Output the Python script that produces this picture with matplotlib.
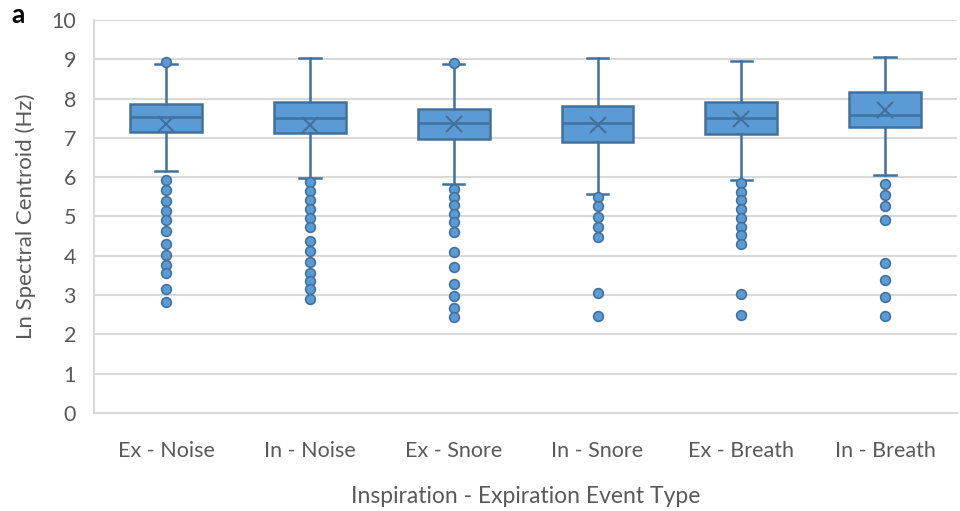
import matplotlib.pyplot as plt

categories = ['Ex - Noise', 'In - Noise', 'Ex - Snore', 'In - Snore', 'Ex - Breath', 'In - Breath']

q1 = [7.15, 7.11, 6.96, 6.89, 7.09, 7.28]
medians = [7.53, 7.51, 7.38, 7.38, 7.50, 7.58]
q3 = [7.86, 7.90, 7.73, 7.81, 7.90, 8.16]
means = [7.34, 7.33, 7.34, 7.33, 7.48, 7.71]
whisker_low = [6.15, 5.97, 5.82, 5.56, 5.92, 6.06]
whisker_high = [8.88, 9.02, 8.88, 9.03, 8.95, 9.06]

outliers = [
    [8.92, 5.93, 5.66, 5.39, 5.13, 4.90, 4.62, 4.29, 4.02, 3.77, 3.56, 3.15, 2.82],
    [5.88, 5.64, 5.41, 5.18, 4.96, 4.73, 4.38, 4.12, 3.83, 3.55, 3.35, 3.14, 2.90],
    [8.90, 5.71, 5.50, 5.29, 5.07, 4.86, 4.61, 4.10, 3.72, 3.27, 2.97, 2.68, 2.44],
    [5.49, 5.26, 4.98, 4.72, 4.48, 3.05, 2.47],
    [5.84, 5.63, 5.41, 5.20, 4.96, 4.73, 4.52, 4.31, 3.03, 2.50],
    [5.83, 5.54, 5.26, 4.91, 3.82, 3.39, 2.95, 2.47],
]

fill = '#5B9BD5'
edge = '#41719C'
grid = '#D9D9D9'
text = '#595959'

plt.rcParams['font.family'] = ['Lato', 'DejaVu Sans']

stats = []
for i in range(len(categories)):
    stats.append({'label': categories[i], 'q1': q1[i], 'med': medians[i], 'q3': q3[i],
                  'mean': means[i], 'whislo': whisker_low[i], 'whishi': whisker_high[i],
                  'fliers': outliers[i]})

fig = plt.figure(figsize=(9.6, 5.11), dpi=100)
ax = fig.add_axes([0.098, 0.192, 0.899, 0.769])

ax.bxp(stats, positions=range(1, 7), widths=0.5, capwidths=0.15, showmeans=True,
       patch_artist=True,
       boxprops=dict(facecolor=fill, edgecolor=edge, linewidth=1.8),
       medianprops=dict(color=edge, linewidth=1.8),
       whiskerprops=dict(color=edge, linewidth=1.8),
       capprops=dict(color=edge, linewidth=1.8),
       meanprops=dict(marker='x', markeredgecolor=edge, markersize=11, markeredgewidth=1.5),
       flierprops=dict(marker='o', markerfacecolor=fill, markeredgecolor=edge,
                       markersize=7, markeredgewidth=1.2))

ax.set_xlim(0.5, 6.5)
ax.set_ylim(0, 10)
ax.set_yticks(range(0, 11))
ax.yaxis.grid(True, color=grid, linewidth=1.5)
ax.set_axisbelow(True)
for s in ['top', 'right']:
    ax.spines[s].set_visible(False)
for s in ['left', 'bottom']:
    ax.spines[s].set_color(grid)
    ax.spines[s].set_linewidth(1.5)
ax.tick_params(length=0, labelsize=15.5, labelcolor=text, pad=13)
ax.tick_params(axis='x', pad=20)

ax.set_ylabel('Ln Spectral Centroid (Hz)', fontsize=16, color=text, labelpad=11)
ax.set_xlabel('Inspiration - Expiration Event Type', fontsize=16.5, color=text, labelpad=18)

fig.text(0.012, 0.955, 'a', fontsize=19, fontweight='bold', color='black')

fig.savefig('out.png', dpi=100)
